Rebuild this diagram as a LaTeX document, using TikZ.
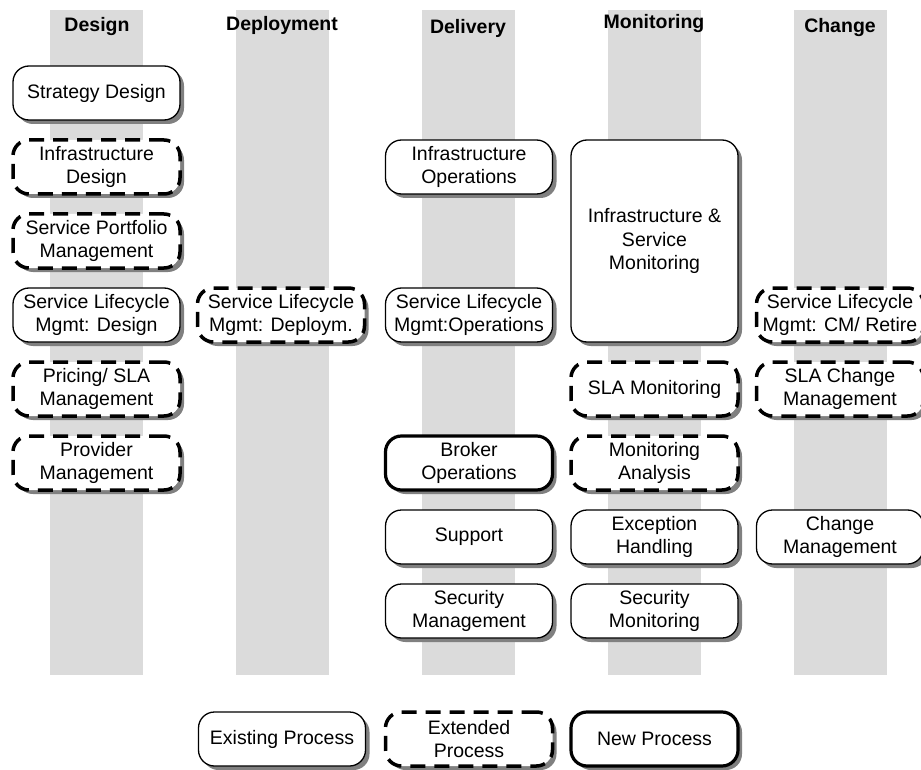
\documentclass[tikz,border=0pt]{standalone}
\usepackage{fontspec}
\setmainfont{Liberation Sans}
\usetikzlibrary{shadows}
\begin{document}
\begin{tikzpicture}[x=1pt,y=-1pt,
  band/.style={fill=black!14,draw=none},
  hdr/.style={font=\fontsize{19.5}{23}\selectfont\bfseries,anchor=center},
  proc/.style={draw=black,fill=white,rounded corners=16pt,minimum width=167pt,minimum height=54pt,
    inner sep=2pt,align=center,font=\fontsize{19.5}{23.5}\selectfont,
    drop shadow={shadow xshift=4pt,shadow yshift=-4pt,fill=black!50,opacity=1}},
  existing/.style={proc,line width=1.3pt},
  extended/.style={proc,line width=3.5pt,dash pattern=on 15pt off 9pt},
  newproc/.style={proc,line width=3.2pt}]
\useasboundingbox (0,0) rectangle (921,770);
\fill[white] (0,0) rectangle (921,770);
% bands
\fill[band] (50,10) rectangle (143,675);
\fill[band] (236,10) rectangle (329,675);
\fill[band] (422,10) rectangle (515,675);
\fill[band] (608,10) rectangle (701,675);
\fill[band] (794,10) rectangle (887,675);
% headers
\node[hdr] (hDesign) at (97,27) {Design};
\node[hdr] (hDeploy) at (282,25) {Deployment};
\node[hdr] (hDelivery) at (468,28) {Delivery};
\node[hdr] (hMon) at (654,24) {Monitoring};
\node[hdr] (hChange) at (840,28) {Change};
% Design column
\node[existing] (sd) at (96.5,93) {Strategy Design};
\node[extended] (id) at (96.5,167) {Infrastructure\\Design};
\node[extended] (spm) at (96.5,241) {Service Portfolio\\Management};
\node[existing] (slcd) at (96.5,315) {Service Lifecycle\\Mgmt: Design};
\node[extended] (psla) at (96.5,389) {Pricing/ SLA\\Management};
\node[extended] (pm) at (96.5,463) {Provider\\Management};
% Deployment
\node[extended] (slcdep) at (281,315) {Service Lifecycle\\Mgmt: Deploym.};
% Delivery
\node[existing] (io) at (469,167) {Infrastructure\\Operations};
\node[existing] (slco) at (469,315) {Service Lifecycle\\Mgmt:Operations};
\node[newproc] (bo) at (469,463) {Broker\\Operations};
\node[existing] (sup) at (469,537) {Support};
\node[existing] (secm) at (469,611) {Security\\Management};
% Monitoring
\node[existing,minimum height=202pt] (ism) at (654.5,241) {Infrastructure \&\\Service\\Monitoring};
\node[extended] (slam) at (654.5,389) {SLA Monitoring};
\node[extended] (ma) at (654.5,463) {Monitoring\\Analysis};
\node[existing] (eh) at (654.5,537) {Exception\\Handling};
\node[existing] (secmon) at (654.5,611) {Security\\Monitoring};
% Change
\node[extended] (slccm) at (840,315) {Service Lifecycle\\Mgmt: CM/ Retire};
\node[extended] (slacm) at (840,389) {SLA Change\\Management};
\node[existing] (cm) at (840,537) {Change\\Management};
% legend
\node[existing] (lex) at (282,739) {Existing Process};
\node[extended] (lext) at (469,739) {Extended\\Process};
\node[newproc] (lnew) at (654.5,739) {New Process};
\end{tikzpicture}
\end{document}
